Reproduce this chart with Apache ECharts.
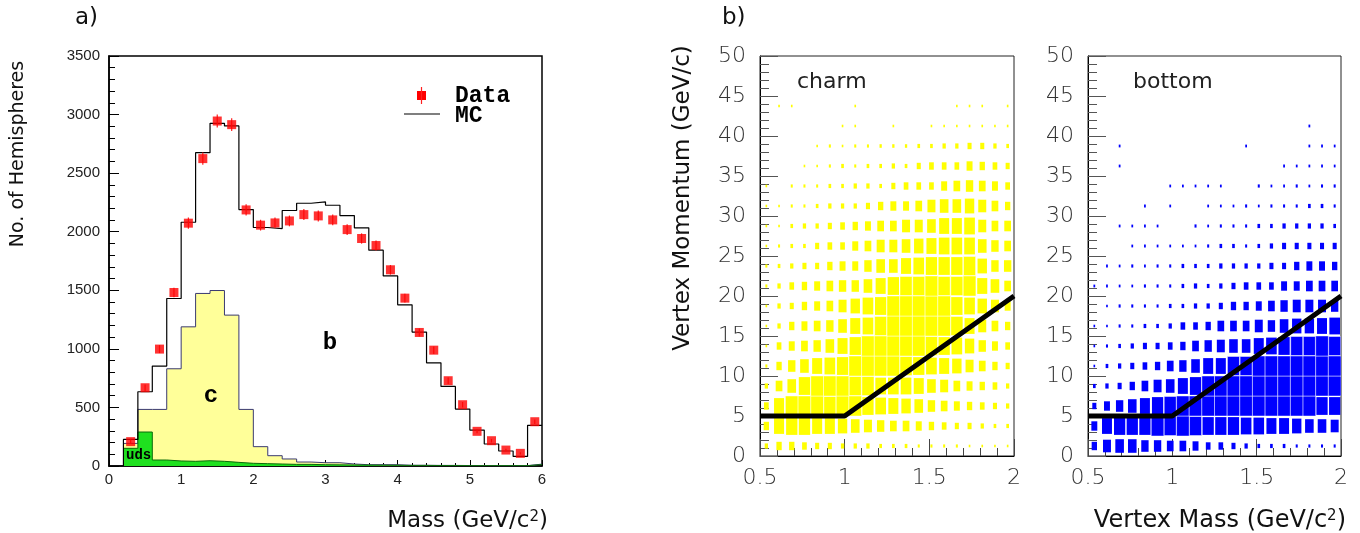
<!DOCTYPE html>
<html><head><meta charset="utf-8">
<script src="https://cdn.jsdelivr.net/npm/echarts@6/dist/echarts.min.js"></script>
<style>html,body{margin:0;padding:0;background:#fff}#c{width:1360px;height:533px}</style>
</head><body><div id="c"></div>
<script>
// ---------- panel a) : vertex mass histogram ----------
const binLow = [0.2,0.4,0.6,0.8,1.0,1.2,1.4,1.6,1.8,2.0,2.2,2.4,2.6,2.8,3.0,3.2,3.4,3.6,3.8,4.0,4.2,4.4,4.6,4.8,5.0,5.2,5.4,5.6,5.8];
const binWidth = 0.2;
const mcTotal = [227,634,853,1430,2081,2675,2925,2903,2189,2036,2027,2181,2243,2254,2226,2138,2033,1842,1623,1376,1143,881,679,486,307,188,128,82,347];
const charmMC = [42,193,432,787,1148,1428,1458,1257,460,145,71,46,20,17,18,8,3,4,5,1,1,1,1,1,1,0,0,0,4];
const udsMC = [151,290,51,43,40,45,40,31,23,20,17,14,14,11,10,9,8,7,6,5,5,4,4,3,3,3,3,3,12];
const dataCounts = [208,668,998,1481,2073,2624,2945,2914,2186,2056,2075,2092,2146,2135,2101,2018,1942,1882,1675,1433,1140,989,728,523,296,216,136,108,378];
const dataErrors = [18,28,34,40,48,52,55,55,48,46,46,46,47,47,46,45,44,43,41,38,34,32,27,23,17,15,12,10,19];

// ---------- panel b) : vertex momentum vs vertex mass ----------
const vtxMassCenters = [0.5375,0.6125,0.6875,0.7625,0.8375,0.9125,0.9875,1.0625,1.1375,1.2125,1.2875,1.3625,1.4375,1.5125,1.5875,1.6625,1.7375,1.8125,1.8875,1.9625];
const vtxMomCenters = [1.25,3.75,6.25,8.75,11.25,13.75,16.25,18.75,21.25,23.75,26.25,28.75,31.25,33.75,36.25,38.75,41.25,43.75,46.25,48.75];
// rows: momentum bin 0 (bottom) .. 19 (top); columns: mass bins
const charmGrid = [
[26,42,42,37,32,32,26,26,26,21,21,21,16,16,16,16,13,13,13,13],
[42,79,89,89,79,79,74,68,63,58,53,53,47,42,37,32,32,26,21,21],
[37,79,100,100,100,95,100,100,89,84,79,74,68,58,53,47,42,37,32,26],
[26,53,68,89,100,100,100,95,95,84,84,84,79,68,63,53,47,42,37,26],
[16,42,58,68,79,84,89,100,100,100,100,95,89,84,79,74,63,53,42,32],
[13,37,47,53,58,68,79,89,100,100,100,100,100,95,89,84,74,58,47,37],
[13,26,42,47,53,58,68,79,84,95,100,100,100,100,100,95,79,63,53,42],
[13,26,32,42,47,53,63,74,84,89,100,100,100,100,100,89,84,74,63,47],
[16,26,37,42,47,53,58,58,68,79,89,95,95,100,95,95,100,79,68,53],
[16,21,26,32,32,42,47,47,58,68,68,79,84,89,89,89,95,74,58,58],
[13,16,21,21,32,37,37,47,53,63,63,68,74,79,84,84,84,68,58,53],
[13,13,21,26,26,32,37,42,47,53,53,63,63,68,79,79,84,63,53,53],
[13,13,16,16,21,26,26,26,32,42,47,47,53,63,68,68,74,63,53,42],
[13,0,16,16,16,21,21,26,26,21,32,37,37,37,47,53,58,53,47,37],
[0,0,0,13,13,16,21,16,21,21,26,21,32,37,37,37,47,42,37,32],
[0,0,0,0,13,16,13,16,16,18,18,18,21,21,26,26,32,32,26,21],
[0,0,0,0,0,0,13,13,0,0,13,0,0,13,13,13,13,13,13,13],
[0,13,13,0,0,0,0,13,0,0,0,0,0,0,0,13,13,13,0,13],
[0,0,0,0,0,0,0,0,0,0,0,0,0,0,0,0,0,0,0,0],
[0,0,0,0,0,0,0,0,0,0,0,0,0,0,0,0,0,0,0,0]
];
const bottomGrid = [
[42,63,68,68,58,58,53,53,47,37,37,32,26,21,21,21,16,16,16,16],
[47,79,89,89,89,100,95,100,95,89,89,89,84,84,79,79,74,68,68,63],
[32,47,58,68,79,89,95,100,100,100,100,100,100,100,100,100,100,100,89,89],
[21,26,32,42,53,63,68,79,89,100,100,100,100,100,100,100,100,100,100,100],
[13,21,26,32,37,42,53,58,68,79,79,95,95,100,100,100,100,100,100,100],
[13,16,21,26,32,32,37,42,53,58,63,68,68,79,84,89,95,95,100,95],
[13,13,16,16,21,21,26,37,37,42,53,53,53,63,58,68,74,74,79,84],
[0,13,16,16,16,16,21,21,26,26,32,42,42,47,53,58,63,63,63,58],
[14,14,14,14,16,16,16,21,26,21,26,32,37,37,37,47,47,53,53,53],
[0,14,14,16,14,16,16,21,21,21,26,26,26,26,32,32,42,47,47,42],
[0,0,0,14,14,14,14,14,14,16,21,21,16,21,26,32,32,32,32,32],
[0,0,14,14,14,14,0,0,16,14,16,16,16,21,21,26,26,26,26,21],
[0,0,0,0,14,0,14,0,0,14,14,14,16,14,16,16,16,21,21,16],
[0,0,0,0,0,0,14,14,14,14,14,0,0,16,14,14,16,14,16,16],
[0,0,14,0,0,0,0,0,0,0,0,0,0,0,0,14,14,14,14,14],
[0,0,14,0,0,0,0,0,0,0,0,0,14,0,0,0,0,14,14,14],
[0,0,0,0,0,0,0,0,0,0,0,0,0,0,0,0,0,14,0,0],
[0,0,0,0,0,0,0,0,0,0,0,0,0,0,0,0,0,0,0,0],
[0,0,0,0,0,0,0,0,0,0,0,0,0,0,0,0,0,0,0,0],
[0,0,0,0,0,0,0,0,0,0,0,0,0,0,0,0,0,0,0,0]
];
const massBinW = 0.075, momBinW = 2.5;
const cutMass = [0.5, 1.0, 2.0];
const cutMom = [5, 5, 20];

// ---------- build ----------
function stepData(vals){
  const d = binLow.map((x,i)=>[x, vals[i]]);
  d.push([binLow[binLow.length-1]+binWidth, vals[vals.length-1]]);
  return d;
}
const yellowTop = udsMC.map((u,i)=>u+charmMC[i]);
const mcLine = [[binLow[0],0]].concat(stepData(mcTotal));
const dataPts = binLow.map((x,i)=>[x+binWidth/2, dataCounts[i], dataErrors[i]]);

function gridCells(grid){
  const out=[];
  grid.forEach((row,j)=>row.forEach((v,i)=>{ if(v>0) out.push([vtxMassCenters[i], vtxMomCenters[j], v]); }));
  return out;
}
function boxRender(color){
  return function(params, api){
    const c = api.coord([api.value(0), api.value(1)]);
    const s = api.size([massBinW, momBinW]);
    const f = api.value(2)/100;
    const w = s[0]*f, h = s[1]*f;
    const st = {fill:color};
    if (f >= 0.9) { st.stroke = 'rgba(255,255,255,0.75)'; st.lineWidth = 0.6; }
    return {type:'rect', shape:{x:c[0]-w/2, y:c[1]-h/2, width:w, height:h}, style:st};
  };
}

const FS = 'Liberation Sans, Arial, sans-serif';
const DV = 'DejaVu Sans, Liberation Sans, sans-serif';
const MONO = 'Liberation Mono, Courier New, monospace';
const lightLbl = {fontFamily:'DejaVu Sans', fontWeight:200, fontSize:22, color:'#333'};

function rightX(idx){
  return {gridIndex:idx, type:'value', min:0.5, max:2, interval:0.5,
    axisLine:{show:true, lineStyle:{color:'#000', width:1}},
    axisTick:{show:true, inside:true, length:17, lineStyle:{color:'#444'}},
    minorTick:{show:true, splitNumber:5, length:8, lineStyle:{color:'#444'}},
    splitLine:{show:false},
    axisLabel:Object.assign({margin:11}, lightLbl)};
}
function rightY(idx){
  return {gridIndex:idx, type:'value', min:0, max:50, interval:5,
    axisLine:{show:true, lineStyle:{color:'#000', width:1}},
    axisTick:{show:true, inside:true, length:18, lineStyle:{color:'#555'}},
    minorTick:{show:true, splitNumber:5, length:9, lineStyle:{color:'#555'}},
    splitLine:{show:false},
    axisLabel:Object.assign({margin:14}, lightLbl)};
}

const option = {
  animation:false,
  backgroundColor:'#fff',
  grid:[
    {left:109, top:56, width:433, height:410, show:true, borderColor:'#000', borderWidth:1.5, backgroundColor:'transparent'},
    {left:760, top:56, width:254, height:400, show:true, borderColor:'#222', borderWidth:1, backgroundColor:'transparent'},
    {left:1088, top:56, width:253, height:400, show:true, borderColor:'#222', borderWidth:1, backgroundColor:'transparent'}
  ],
  xAxis:[
    {gridIndex:0, type:'value', min:0, max:6, interval:1,
      axisLine:{show:true, lineStyle:{color:'#000', width:1.5}},
      axisTick:{show:true, inside:true, length:6, lineStyle:{color:'#000'}},
      minorTick:{show:true, splitNumber:5, length:3, lineStyle:{color:'#000'}},
      splitLine:{show:false},
      axisLabel:{margin:6, fontFamily:FS, fontSize:15, color:'#222'}},
    rightX(1), rightX(2)
  ],
  yAxis:[
    {gridIndex:0, type:'value', min:0, max:3500, interval:500,
      axisLine:{show:true, lineStyle:{color:'#000', width:1.5}},
      axisTick:{show:true, inside:true, length:10, lineStyle:{color:'#000'}},
      minorTick:{show:true, splitNumber:5, length:6, lineStyle:{color:'#000'}},
      splitLine:{show:false},
      axisLabel:{margin:9, fontFamily:FS, fontSize:15, color:'#222', formatter:v=>String(v)}},
    rightY(1), rightY(2)
  ],
  series:[
    {name:'c', type:'line', xAxisIndex:0, yAxisIndex:0, step:'end', symbol:'none',
      data:stepData(yellowTop), lineStyle:{color:'#3a3a70', width:1},
      areaStyle:{color:'#ffff99', opacity:1}, z:2},
    {name:'uds', type:'line', xAxisIndex:0, yAxisIndex:0, step:'end', symbol:'none',
      data:stepData(udsMC), lineStyle:{color:'#0a6a0a', width:1},
      areaStyle:{color:'#1fe01f', opacity:1}, z:3},
    {name:'MC', type:'line', xAxisIndex:0, yAxisIndex:0, step:'end', symbol:'none',
      data:mcLine, lineStyle:{color:'#000', width:1.2}, z:4},
    {name:'Data err', type:'custom', xAxisIndex:0, yAxisIndex:0, data:dataPts, z:5,
      renderItem:function(params, api){
        const x=api.value(0), y=api.value(1), e=api.value(2);
        const p1=api.coord([x,y-e]), p2=api.coord([x,y+e]);
        return {type:'line', shape:{x1:p1[0], y1:p1[1], x2:p2[0], y2:p2[1]}, style:{stroke:'#ff2020', lineWidth:1.2}};
      }},
    {name:'Data', type:'scatter', xAxisIndex:0, yAxisIndex:0, symbol:'rect', symbolSize:9,
      itemStyle:{color:'#ff0000'}, data:dataPts.map(d=>[d[0],d[1]]), z:6},
    {name:'charm', type:'custom', xAxisIndex:1, yAxisIndex:1, clip:true,
      renderItem:boxRender('#ffff00'), data:gridCells(charmGrid), z:2},
    {name:'charm cut', type:'line', xAxisIndex:1, yAxisIndex:1, symbol:'none',
      data:cutMass.map((m,i)=>[m,cutMom[i]]), lineStyle:{color:'#000', width:5}, z:5},
    {name:'bottom', type:'custom', xAxisIndex:2, yAxisIndex:2, clip:true,
      renderItem:boxRender('#0000ff'), data:gridCells(bottomGrid), z:2},
    {name:'bottom cut', type:'line', xAxisIndex:2, yAxisIndex:2, symbol:'none',
      data:cutMass.map((m,i)=>[m,cutMom[i]]), lineStyle:{color:'#000', width:5}, z:5}
  ],
  graphic:[
    {type:'text', x:75, y:18, style:{text:'a)', font:'23px '+DV, fill:'#111', textVerticalAlign:'middle'}},
    {type:'text', x:722, y:18, style:{text:'b)', font:'23px '+DV, fill:'#111', textVerticalAlign:'middle'}},
    {type:'text', x:18, y:154, rotation:Math.PI/2, style:{text:'No. of Hemispheres', font:'19px '+DV, fill:'#111', textAlign:'center', textVerticalAlign:'middle'}},
    {type:'text', x:683, y:198, rotation:Math.PI/2, style:{text:'Vertex Momentum (GeV/c)', font:'23px '+DV, fill:'#111', textAlign:'center', textVerticalAlign:'middle'}},
    {type:'text', x:548, y:521, style:{text:'Mass (GeV/c{s|2})', fill:'#111', fontSize:23, fontFamily:DV, align:'right', verticalAlign:'middle',
      rich:{s:{fontSize:15, fontFamily:DV, fill:'#111', verticalAlign:'top'}}}},
    {type:'text', x:1346, y:521, style:{text:'Vertex Mass (GeV/c{s|2})', fill:'#111', fontSize:24, fontFamily:DV, align:'right', verticalAlign:'middle',
      rich:{s:{fontSize:15, fontFamily:DV, fill:'#111', verticalAlign:'top'}}}},
    {type:'text', x:797, y:82, style:{text:'charm', font:'22px '+DV, fill:'#222', textVerticalAlign:'middle'}},
    {type:'text', x:1133, y:82, style:{text:'bottom', font:'22px '+DV, fill:'#222', textVerticalAlign:'middle'}},
    {type:'text', x:330, y:343, z:10, style:{text:'b', font:'bold 24px '+MONO, fill:'#000', textAlign:'center', textVerticalAlign:'middle'}},
    {type:'text', x:211, y:396, z:10, style:{text:'c', font:'bold 24px '+MONO, fill:'#000', textAlign:'center', textVerticalAlign:'middle'}},
    {type:'text', x:126, y:455, z:10, style:{text:'uds', font:'bold 14px '+MONO, fill:'#000', textVerticalAlign:'middle'}},
    {type:'rect', x:417, y:91, z:10, shape:{width:9, height:9}, style:{fill:'#ff0000'}},
    {type:'line', z:10, shape:{x1:421.5, y1:87, x2:421.5, y2:104}, style:{stroke:'#ff2020', lineWidth:1.2}},
    {type:'text', x:455, y:96, z:10, style:{text:'Data', font:'bold 23px '+MONO, fill:'#000', textVerticalAlign:'middle'}},
    {type:'line', z:10, shape:{x1:404, y1:114, x2:440, y2:114}, style:{stroke:'#000', lineWidth:1.2}},
    {type:'text', x:455, y:116, z:10, style:{text:'MC', font:'bold 23px '+MONO, fill:'#000', textVerticalAlign:'middle'}}
  ]
};
echarts.init(document.getElementById('c'), null, {renderer:'canvas'}).setOption(option);
</script></body></html>
